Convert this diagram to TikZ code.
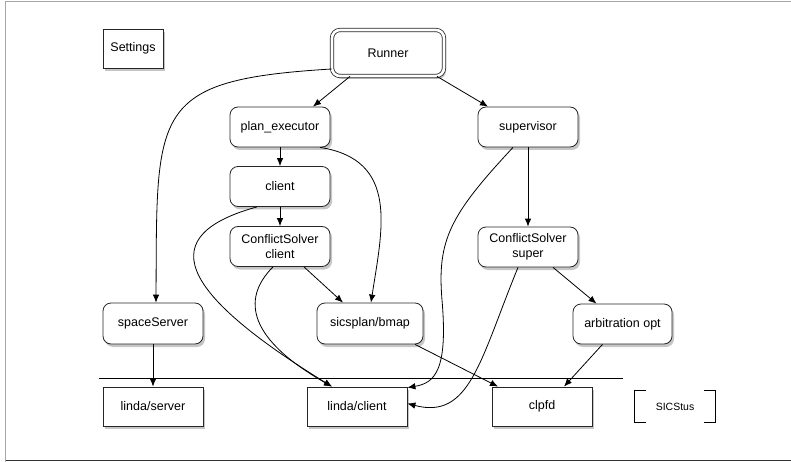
\documentclass[tikz,border=0pt]{standalone}
\usepackage{fontspec}
\setmainfont{Liberation Sans}
\usetikzlibrary{arrows.meta,shadows}
\tikzset{
  base/.style={draw=black!85, fill=white, line width=0.8pt, inner sep=0pt, align=center,
    font=\fontsize{12.5}{15}\selectfont,
    drop shadow={opacity=0.45, shadow xshift=2pt, shadow yshift=-3pt}},
  rbox/.style={base, rounded corners=8pt, minimum width=100pt, minimum height=40pt},
  sbox/.style={base, minimum width=100pt, minimum height=39pt},
  arr/.style={-{Latex[length=8pt,width=6.5pt]}, line width=0.8pt, black},
  plainline/.style={line width=0.8pt, black},
}
\begin{document}
\begin{tikzpicture}[x=1pt,y=-1pt]
\useasboundingbox (0,0) rectangle (791,462);
% frame
\draw[gray!70, line width=1.5pt] (5.5,462) -- (5.5,1.5) -- (791,1.5);
\draw[black!80, line width=1.5pt] (5.5,460.5) -- (791,460.5);

% nodes
\node[sbox, minimum width=60pt] (settings) at (133,48.5) {Settings};
\node[rbox, minimum width=112pt, minimum height=46pt, double, double distance=2.6pt] (runner) at (388,53) {Runner};
\node[rbox] (plan) at (280,127) {plan\_executor};
\node[rbox] (sup) at (528,127) {supervisor};
\node[rbox] (client) at (280,186.5) {client};
\node[rbox] (csc) at (280,246.5) {ConflictSolver\\client};
\node[rbox] (css) at (528,247) {ConflictSolver\\super};
\node[rbox, minimum height=41pt] (space) at (153,323.5) {spaceServer};
\node[rbox, minimum width=106pt, minimum height=41pt] (sics) at (370,323.5) {sicsplan/bmap};
\node[rbox, minimum width=99pt] (arb) at (622.5,324) {arbitration opt};
\node[sbox] (lserver) at (153,406.5) {linda/server};
\node[sbox] (lclient) at (357,406.5) {linda/client};
\node[sbox] (clpfd) at (542,406.5) {clpfd};
\node[inner sep=0pt, minimum width=80pt, minimum height=31pt, font=\fontsize{10.5}{12}\selectfont] (sicstus) at (675,406.5) {SICStus};
\draw[plainline] ([xshift=11pt]sicstus.north west) -- (sicstus.north west) -- (sicstus.south west) -- ([xshift=11pt]sicstus.south west);
\draw[plainline] ([xshift=-11pt]sicstus.north east) -- (sicstus.north east) -- (sicstus.south east) -- ([xshift=-11pt]sicstus.south east);

% separator line
\coordinate (sepL) at (99,378);
\coordinate (sepR) at (623,378);
\draw[plainline] (sepL) -- (sepR);

% connectors
\draw[arr] ([xshift=-38pt]runner.south) -- ([xshift=33pt]plan.north);
\draw[arr] ([xshift=49pt]runner.south) -- ([xshift=-40pt]sup.north);
\draw[arr] ([yshift=-16pt]runner.west) .. controls (150,80) and (157,110) .. ([xshift=3pt]space.north);
\draw[arr] (plan) -- (client);
\draw[arr] ([xshift=40pt]plan.south) .. controls (400,160) and (382,230) .. ([xshift=1pt]sics.north);
\draw[arr] (client) -- (csc);
\draw[arr] ([xshift=-23pt]client.south) .. controls (155,235) and (175,290) .. ([xshift=-25pt]lclient.north);
\draw[arr] ([xshift=-7pt]csc.south) .. controls (240,300) and (250,340) .. ([xshift=-25pt]lclient.north);
\draw[arr] ([xshift=24pt]csc.south) -- ([xshift=-27pt]sics.north);
\draw[arr] (sup) -- (css);
\draw[arr] ([xshift=-15pt]sup.south) .. controls (450,215) and (437,240) .. (442,300)
  .. controls (448,370) and (435,383) .. ([yshift=-1pt]lclient.north east);
\draw[arr] ([xshift=-10pt]css.south) .. controls (480,360) and (470,420) .. ([yshift=3pt]lclient.east);
\draw[arr] ([xshift=45pt]sics.south) -- ([xshift=-44pt]clpfd.north);
\draw[arr] ([xshift=-20pt]arb.south) -- ([xshift=22pt]clpfd.north);
\draw[arr] ([xshift=25pt]css.south) -- ([xshift=-26pt]arb.north);
\draw[arr] (space) -- (lserver);
\end{tikzpicture}
\end{document}
